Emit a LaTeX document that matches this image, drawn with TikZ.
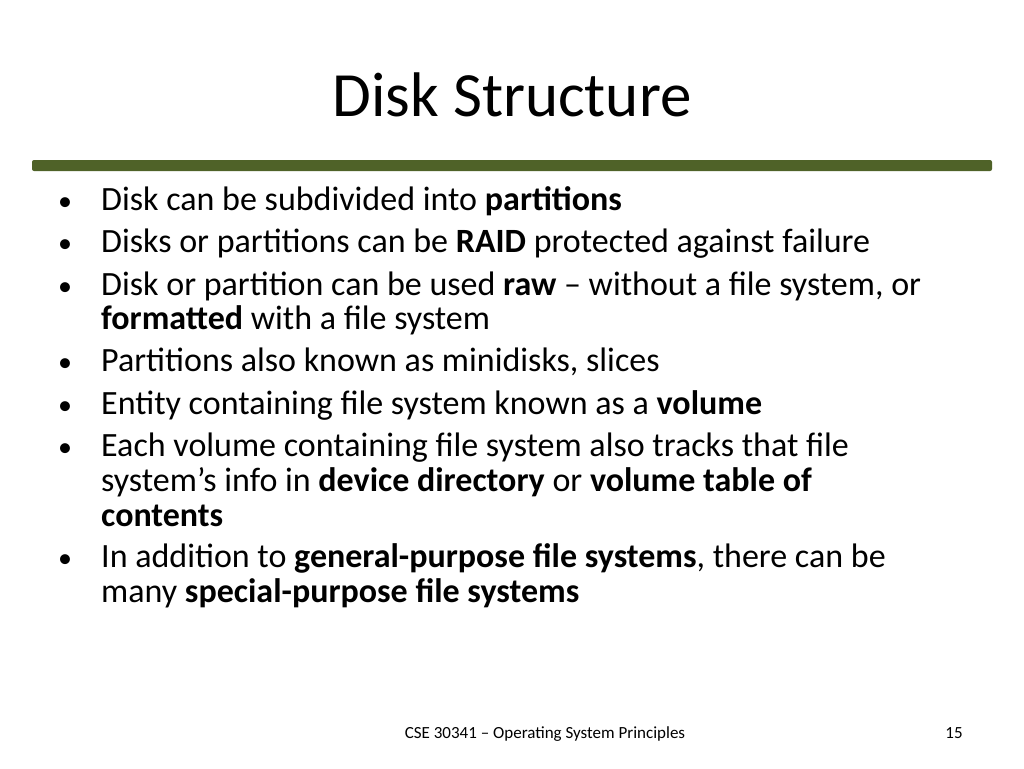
\documentclass[tikz,border=0pt]{standalone}
\usepackage{fontspec}
\setmainfont{Carlito}
\begin{document}
\begin{tikzpicture}[x=1pt,y=-1pt,
  line/.style={anchor=base west,inner sep=0pt,font=\fontsize{34}{40}\selectfont},
  bul/.style={anchor=base,inner sep=0pt,font=\fontsize{28}{34}\selectfont}]
\useasboundingbox[fill=white] (0,0) rectangle (1024,768);
\node[anchor=base,inner sep=0pt,font=\fontsize{63}{70}\selectfont] (title) at (512,116) {Disk Structure};
\fill[rounded corners=2pt,fill={rgb,255:red,79;green,98;blue,40}] (32,160) rectangle (992,171);
\foreach \y in {210,252,295,371,414,456,567} \node[bul] at (65,\y) {•};
\node[line] (l1) at (101,210) {Disk can be subdivided into \textbf{partitions}};
\node[line] (l2) at (101,252) {Disks or partitions can be \textbf{RAID} protected against failure};
\node[line] (l3) at (101,295) {Disk or partition can be used \textbf{raw} – without a file system, or};
\node[line] (l3b) at (101,329) {\textbf{formatted} with a file system};
\node[line] (l4) at (101,371) {Partitions also known as minidisks, slices};
\node[line] (l5) at (101,414) {Entity containing file system known as a \textbf{volume}};
\node[line] (l6) at (101,456) {Each volume containing file system also tracks that file};
\node[line] (l6b) at (101,491) {system’s info in \textbf{device directory} or \textbf{volume table of}};
\node[line] (l6c) at (101,526) {\textbf{contents}};
\node[line] (l7) at (101,567) {In addition to \textbf{general-purpose file systems}, there can be};
\node[line] (l7b) at (101,602) {many \textbf{special-purpose file systems}};
\node[anchor=base,inner sep=0pt,font=\fontsize{17}{20}\selectfont] (foot) at (545,738) {CSE 30341 – Operating System Principles};
\node[anchor=base,inner sep=0pt,font=\fontsize{17}{20}\selectfont] (num) at (954,738) {15};
\end{tikzpicture}
\end{document}
